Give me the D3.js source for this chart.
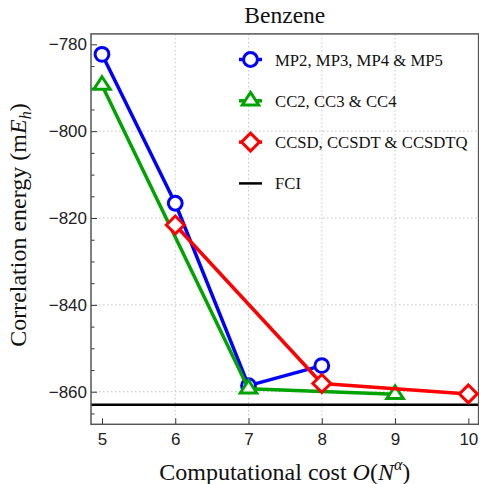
<!DOCTYPE html>
<html>
<head>
<meta charset="utf-8">
<script src="https://cdn.jsdelivr.net/npm/d3@7"></script>
<style>
  body { margin: 0; background: #fff; }
  svg { display: block; }
  .tick text { font-family: "Liberation Sans", Arial, sans-serif; font-size: 17px; fill: #222; }
  .serif { font-family: "Liberation Serif", "Times New Roman", serif; fill: #111; }
</style>
</head>
<body>
<svg id="chart" width="479" height="484"></svg>
<script>

const mpCost = [5, 6, 7, 8]
const mpEnergy = [-782.3, -816.6, -858.6, -854.0]

const ccCost = [5, 7, 9]
const ccEnergy = [-789.4, -859.3, -860.6]

const ccsdCost = [6, 8, 10]
const ccsdEnergy = [-821.6, -858.1, -860.5]

const fciEnergy = -863.0

const xTicks = [5, 6, 7, 8, 9, 10]
const yTicks = [-780, -800, -820, -840, -860]
const yMinorTicks = d3.range(-865, -775, 5).filter(d => d % 20 != 0)
const xGrid = [6, 7, 8, 9]
const yGrid = [-800, -820, -840, -860]

const legendLabels = ["MP2, MP3, MP4 & MP5", "CC2, CC3 & CC4", "CCSD, CCSDT & CCSDTQ", "FCI"]

const blue = "#0000ff"
const green = "#00a300"
const red = "#ff0000"

const svg = d3.select("#chart")

const x = d3.scaleLinear().domain([4.85, 10.14]).range([91, 478.6])
const y = d3.scaleLinear().domain([-867.5, -777.6]).range([424.3, 33.9])

const [x0, x1] = x.range()
const [y0, y1] = y.range()

// grid
svg.append("g")
  .selectAll("line")
  .data(xGrid)
  .join("line")
  .attr("x1", d => x(d))
  .attr("x2", d => x(d))
  .attr("y1", y1)
  .attr("y2", y0)
  .attr("stroke", "#c4c4c4")
  .attr("stroke-width", 1)
  .attr("stroke-dasharray", "1.5,2.5")

svg.append("g")
  .selectAll("line")
  .data(yGrid)
  .join("line")
  .attr("x1", x0)
  .attr("x2", x1)
  .attr("y1", d => y(d))
  .attr("y2", d => y(d))
  .attr("stroke", "#c4c4c4")
  .attr("stroke-width", 1)
  .attr("stroke-dasharray", "1.5,2.5")

// FCI reference
svg.append("line")
  .attr("x1", x0)
  .attr("x2", x1)
  .attr("y1", y(fciEnergy))
  .attr("y2", y(fciEnergy))
  .attr("stroke", "#000")
  .attr("stroke-width", 2.5)

// axes
const yAxis = svg.append("g")
  .attr("transform", `translate(${x0},0)`)
  .call(d3.axisLeft(y).tickValues(yTicks).tickSize(-6).tickPadding(4).tickFormat(d3.format("d")))

const yMinor = svg.append("g")
  .attr("transform", `translate(${x0},0)`)
  .call(d3.axisLeft(y).tickValues(yMinorTicks).tickSize(-3.5).tickFormat(""))

const xAxis = svg.append("g")
  .attr("transform", `translate(0,${y0})`)
  .call(d3.axisBottom(x).tickValues(xTicks).tickSize(-6).tickPadding(9).tickFormat(d3.format("d")))

;[yAxis, yMinor, xAxis].forEach(g => {
  g.select(".domain").remove()
  g.selectAll(".tick line").attr("stroke", "#333").attr("stroke-width", 1)
})

svg.append("rect")
  .attr("x", x0)
  .attr("y", y1)
  .attr("width", x1 - x0)
  .attr("height", y0 - y1)
  .attr("fill", "none")
  .attr("stroke", "#555")
  .attr("stroke-width", 1.5)

// series
const line = d3.line().x(d => x(d[0])).y(d => y(d[1]))

const diamond = {
  draw(context, size) {
    const r = Math.sqrt(size / 2)
    context.moveTo(0, -r)
    context.lineTo(r, 0)
    context.lineTo(0, r)
    context.lineTo(-r, 0)
    context.closePath()
  }
}

// wide triangle, centroid on the point
const triangle = {
  draw(context, size) {
    const w = Math.sqrt(size) * 0.75
    const h = Math.sqrt(size) * 1.15
    context.moveTo(0, -h * 2 / 3)
    context.lineTo(w, h / 3)
    context.lineTo(-w, h / 3)
    context.closePath()
  }
}

function drawSeries(costs, energies, color, symbol, size) {
  const pts = costs.map((c, i) => [c, energies[i]])
  svg.append("path")
    .datum(pts)
    .attr("d", line)
    .attr("fill", "none")
    .attr("stroke", color)
    .attr("stroke-width", 3.5)
    .attr("stroke-linejoin", "round")

  svg.append("g")
    .selectAll("path")
    .data(pts)
    .join("path")
    .attr("transform", d => `translate(${x(d[0])},${y(d[1])})`)
    .attr("d", d3.symbol().type(symbol).size(size))
    .attr("fill", "#fff")
    .attr("stroke", color)
    .attr("stroke-width", 3)
}

drawSeries(mpCost, mpEnergy, blue, d3.symbolCircle, 150)
drawSeries(ccCost, ccEnergy, green, triangle, 120)
drawSeries(ccsdCost, ccsdEnergy, red, diamond, 160)

// legend
const legendStyles = [
  { color: blue, symbol: d3.symbolCircle, size: 150 },
  { color: green, symbol: triangle, size: 120 },
  { color: red, symbol: diamond, size: 160 },
  { color: "#000", symbol: null }
]

const legend = svg.append("g")

legendLabels.forEach((label, i) => {
  const ly = 59.5 + i * 41.3
  const st = legendStyles[i]

  legend.append("line")
    .attr("x1", 239)
    .attr("x2", 262)
    .attr("y1", ly)
    .attr("y2", ly)
    .attr("stroke", st.color)
    .attr("stroke-width", st.symbol ? 3.5 : 2.5)

  if (st.symbol) {
    legend.append("path")
      .attr("transform", `translate(250.5,${ly})`)
      .attr("d", d3.symbol().type(st.symbol).size(st.size))
      .attr("fill", "#fff")
      .attr("stroke", st.color)
      .attr("stroke-width", 3)
  }

  legend.append("text")
    .attr("class", "serif")
    .attr("x", 275)
    .attr("y", ly + 6)
    .style("font-size", "16.7px")
    .text(label)
})

// title and labels
svg.append("text")
  .attr("class", "serif")
  .attr("x", (x0 + x1) / 2)
  .attr("y", 23)
  .attr("text-anchor", "middle")
  .style("font-size", "23.5px")
  .text("Benzene")

const xLabel = svg.append("text")
  .attr("class", "serif")
  .attr("x", (x0 + x1) / 2)
  .attr("y", 480)
  .attr("text-anchor", "middle")
  .style("font-size", "24px")

xLabel.append("tspan").text("Computational cost ")
xLabel.append("tspan").style("font-style", "italic").text("O")
xLabel.append("tspan").text("(")
xLabel.append("tspan").style("font-style", "italic").text("N")
xLabel.append("tspan").style("font-style", "italic").style("font-size", "16px").attr("dy", -10).text("α")
xLabel.append("tspan").attr("dy", 10).text(")")

const yLabel = svg.append("text")
  .attr("class", "serif")
  .attr("transform", `translate(26,${(y0 + y1) / 2 - 4}) rotate(-90)`)
  .attr("text-anchor", "middle")
  .style("font-size", "24px")

yLabel.append("tspan").text("Correlation energy (m")
yLabel.append("tspan").style("font-style", "italic").text("E")
yLabel.append("tspan").style("font-style", "italic").style("font-size", "16px").attr("dy", 5).text("h")
yLabel.append("tspan").attr("dy", -5).text(")")

</script>
</body>
</html>
